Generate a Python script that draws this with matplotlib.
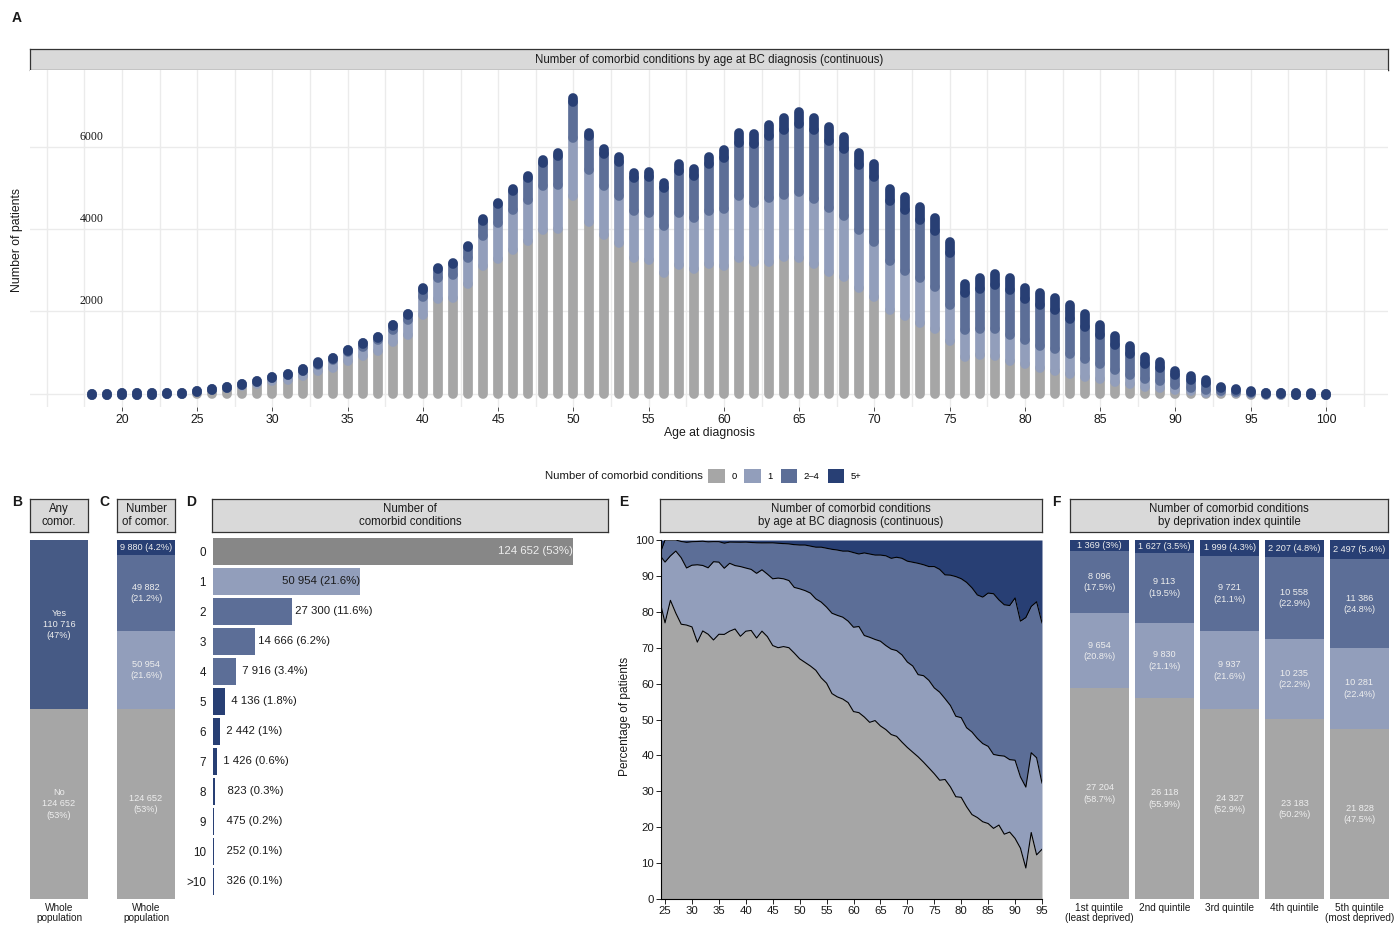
import matplotlib.pyplot as plt
from matplotlib.patches import Patch
import numpy as np

plt.rcParams['font.family'] = ['Liberation Sans', 'DejaVu Sans']

W, H = 1395, 926

# patients by single year of age at diagnosis, split by number of comorbid conditions
ages = list(range(18, 101))
n_zero = [3, 4, 4, 5, 8, 12, 20, 50, 94, 129, 186, 235, 313, 342, 442, 562, 632, 789, 908, 1034,
          1256, 1424, 1911, 2292, 2316, 2679, 3099, 3279, 3490, 3722, 3978, 4015, 4816, 4183, 3856,
          3667, 3301, 3245, 2936, 3140, 3039, 3149, 3098, 3295, 3198, 3215, 3328, 3298, 3164, 2971,
          2828, 2561, 2361, 2039, 1894, 1730, 1563, 1287, 885, 939, 911, 799, 730, 627, 549, 489,
          415, 351, 276, 237, 161, 145, 93, 62, 28, 30, 15, 9, 3, 2, 1, 1, 0]
n_one = [0, 0, 1, 1, 1, 2, 3, 11, 14, 28, 45, 49, 71, 103, 108, 141, 191, 215, 227, 262,
         295, 378, 451, 521, 574, 614, 738, 864, 967, 1000, 1063, 1072, 1404, 1270, 1207,
         1145, 1131, 1144, 1149, 1267, 1244, 1306, 1394, 1523, 1431, 1548, 1513, 1615, 1569, 1543,
         1491, 1424, 1331, 1197, 1095, 1094, 1044, 882, 656, 635, 662, 629, 572, 537, 537, 475,
         420, 359, 289, 223, 194, 157, 120, 87, 73, 36, 33, 12, 5, 3, 2, 1, 1]
n_two_four = [0, 0, 0, 0, 0, 0, 0, 4, 5, 5, 11, 22, 27, 31, 40, 55, 49, 61, 86, 82,
              109, 132, 185, 230, 271, 269, 369, 465, 484, 519, 580, 698, 878, 806, 778,
              829, 820, 886, 914, 1015, 1004, 1123, 1234, 1282, 1451, 1516, 1574, 1642, 1676, 1641,
              1623, 1577, 1572, 1441, 1483, 1403, 1357, 1247, 915, 973, 1060, 1091, 998, 988, 938, 862,
              787, 713, 628, 499, 376, 334, 249, 190, 153, 66, 53, 29, 10, 7, 4, 2, 2]
n_five_plus = [0, 0, 0, 0, 0, 0, 1, 0, 0, 0, 1, 2, 2, 2, 2, 4, 4, 5, 11, 8,
               10, 12, 15, 21, 25, 29, 34, 37, 45, 53, 62, 76, 101, 89, 101,
               115, 107, 124, 133, 156, 169, 178, 208, 248, 227, 255, 281, 287, 295, 331,
               300, 299, 330, 309, 311, 313, 317, 273, 219, 274, 286, 286, 278, 288, 311, 330,
               307, 247, 210, 192, 161, 142, 89, 99, 70, 30, 21, 15, 6, 4, 2, 1, 1]

# whole population by exact number of conditions
cond_labels = ['0', '1', '2', '3', '4', '5', '6', '7', '8', '9', '10', '>10']
cond_counts = [124652, 50954, 27300, 14666, 7916, 4136, 2442, 1426, 823, 475, 252, 326]

# deprivation quintiles
quintiles = ['1st quintile\n(least deprived)', '2nd quintile', '3rd quintile',
             '4th quintile', '5th quintile\n(most deprived)']
q_zero = [27204, 26118, 24327, 23183, 21828]
q_one = [9654, 9830, 9937, 10235, 10281]
q_two_four = [8096, 9113, 9721, 10558, 11386]
q_five_plus = [1369, 1627, 1999, 2207, 2497]

GREY = '#A6A6A6'
LIGHT = '#929EBB'
MID = '#5C6E97'
DARK = '#283F74'
YES = '#465A85'
ZERO_BAR = '#878787'
INK = '#1A1A1A'
TXT_IN = '#EEEEEE'


def fmt_n(v):
    return f'{v:,}'.replace(',', ' ')


def fmt_p(v, tot):
    s = f'{round(100 * v / tot, 1):.1f}'
    if s.endswith('.0'):
        s = s[:-2]
    return s + '%'


fig = plt.figure(figsize=(W / 100, H / 100), dpi=100)


def px_axes(x0, y0, x1, y1):
    return fig.add_axes([x0 / W, 1 - y1 / H, (x1 - x0) / W, (y1 - y0) / H])


def strip(x0, y0, x1, y1, text):
    s = px_axes(x0, y0, x1, y1)
    s.set_facecolor('#D9D9D9')
    s.set_xticks([])
    s.set_yticks([])
    for sp in s.spines.values():
        sp.set_linewidth(0.9)
        sp.set_color('#333333')
    s.text(0.5, 0.5, text, ha='center', va='center', fontsize=8.3,
           linespacing=1.15, color=INK, transform=s.transAxes)


def letter(x, y, t):
    fig.text(x / W, 1 - y / H, t, ha='center', va='center', fontsize=10,
             fontweight='bold', color=INK)


# ---- A: counts by age ----
strip(30, 49, 1388, 70, 'Number of comorbid conditions by age at BC diagnosis (continuous)')
letter(17, 18, 'A')
ax = px_axes(30, 70, 1388, 407)
ax.set_xlim(13.89, 104.12)
ax.set_ylim(-324, 7874)
c0 = np.array(n_zero)
c1 = c0 + np.array(n_one)
c2 = c1 + np.array(n_two_four)
c3 = c2 + np.array(n_five_plus)
for lo, hi, col in [(np.zeros_like(c0), c0, GREY), (c0, c1, LIGHT), (c1, c2, MID), (c2, c3, DARK)]:
    # stretch empty segments downwards so their round end cap is still drawn
    lo = np.minimum(lo, hi - 30)
    lc = ax.vlines(ages, lo, hi, colors=col, linewidth=7.0, zorder=3)
    lc.set_capstyle('round')
ax.set_xticks(range(20, 101, 5))
ax.set_xticks([15, 17.5] + list(np.arange(22.5, 103, 5)), minor=True)
ax.set_yticks([0, 2000, 4000, 6000])
ax.set_yticklabels([])
ax.grid(True, which='both', color='#EBEBEB', linewidth=1.0, zorder=0)
ax.tick_params(axis='x', which='major', length=3, width=0.6, color='#333333',
               labelsize=8.8, labelcolor=INK, pad=2)
ax.tick_params(axis='x', which='minor', length=0)
ax.tick_params(axis='y', length=0)
for sp in ax.spines.values():
    sp.set_visible(False)
for v in [2000, 4000, 6000]:
    ax.text(18, v + 110, str(v), ha='center', va='bottom', fontsize=8.6,
            family=['Liberation Serif', 'DejaVu Serif'], color=INK)
fig.text(709 / W, 1 - 433 / H, 'Age at diagnosis', ha='center', va='center',
         fontsize=8.8, color=INK)
fig.text(17 / W, 1 - 240 / H, 'Number of patients', ha='center', va='center',
         rotation=90, fontsize=8.8, color=INK)

# legend
fig.text(703 / W, 1 - 476 / H, 'Number of comorbid conditions', ha='right',
         va='center', fontsize=8.2, color=INK)
handles = [Patch(facecolor=c, edgecolor='none') for c in [GREY, LIGHT, MID, DARK]]
fig.legend(handles, ['0', '1', '2–4', '5+'], ncol=4, frameon=False, fontsize=6.8,
           loc='center left', bbox_to_anchor=(708 / W, 1 - 476 / H),
           handlelength=1.75, handleheight=1.75, handletextpad=0.7, columnspacing=0.85,
           borderaxespad=0, borderpad=0)

total = sum(cond_counts)

# ---- B: any comorbidity ----
letter(17, 502, 'B')
strip(30, 499, 88, 532, 'Any\ncomor.')
axb = px_axes(30, 540, 88, 899)
no_n = cond_counts[0]
yes_n = total - no_n
axb.bar(0, no_n, width=1, color=GREY)
axb.bar(0, yes_n, bottom=no_n, width=1, color=YES)
axb.text(0, no_n / 2, f'No\n{fmt_n(no_n)}\n({fmt_p(no_n, total)})', ha='center',
         va='center', fontsize=6.6, color=TXT_IN, linespacing=1.3)
axb.text(0, no_n + yes_n / 2, f'Yes\n{fmt_n(yes_n)}\n({fmt_p(yes_n, total)})',
         ha='center', va='center', fontsize=6.6, color=TXT_IN, linespacing=1.3)
axb.set_xlim(-0.5, 0.5)
axb.set_ylim(0, total)
axb.axis('off')
fig.text(59 / W, 1 - 913 / H, 'Whole\npopulation', ha='center', va='center',
         fontsize=7.2, color=INK, linespacing=1.0)

# ---- C: grouped number of comorbidities ----
letter(104, 502, 'C')
strip(117, 499, 175, 532, 'Number\nof comor.')
axc = px_axes(117, 540, 175, 899)
groups = [cond_counts[0], cond_counts[1], sum(cond_counts[2:5]), sum(cond_counts[5:])]
bottom = 0
for i, (g, col) in enumerate(zip(groups, [GREY, LIGHT, MID, DARK])):
    axc.bar(0, g, bottom=bottom, width=1, color=col)
    sep = ' ' if i == 3 else '\n'
    axc.text(0, bottom + g / 2, f'{fmt_n(g)}{sep}({fmt_p(g, total)})', ha='center',
             va='center', fontsize=6.6, color=TXT_IN, linespacing=1.3)
    bottom += g
axc.set_xlim(-0.5, 0.5)
axc.set_ylim(0, total)
axc.axis('off')
fig.text(146 / W, 1 - 913 / H, 'Whole\npopulation', ha='center', va='center',
         fontsize=7.2, color=INK, linespacing=1.0)

# ---- D: exact number of comorbidities ----
letter(191, 502, 'D')
strip(212, 499, 608, 532, 'Number of\ncomorbid conditions')
axd = px_axes(213, 536, 608, 896)
d_cols = [ZERO_BAR, LIGHT, MID, MID, MID] + [DARK] * 7
pos = np.arange(len(cond_counts))
axd.barh(pos, cond_counts, height=0.9, color=d_cols)
width = max(len(fmt_n(v)) for v in cond_counts)
for i, v in enumerate(cond_counts):
    lab = f'{fmt_n(v).rjust(width)} ({fmt_p(v, total)})'
    if i == 0:
        axd.text(v, i, lab, ha='right', va='center', fontsize=8.2, color=TXT_IN)
    elif i == 1:
        axd.text(v, i, lab, ha='right', va='center', fontsize=8.2, color=INK)
    else:
        axd.text(v, i, lab, ha='left', va='center', fontsize=8.2, color=INK)
axd.set_xlim(0, 136800)
axd.set_ylim(len(cond_counts) - 0.5, -0.5)
axd.set_yticks(pos)
axd.set_yticklabels(cond_labels)
axd.set_xticks([])
axd.tick_params(axis='y', length=0, pad=5, labelsize=8.4, labelcolor=INK)
for sp in axd.spines.values():
    sp.set_visible(False)

# ---- E: percentage by age ----
letter(624, 502, 'E')
strip(660, 499, 1042, 532, 'Number of comorbid conditions\nby age at BC diagnosis (continuous)')
axe = px_axes(661, 540, 1042, 899)
e_sel = slice(ages.index(24), ages.index(95) + 1)
e_age = np.array(ages[e_sel])
e_tot = c3[e_sel].astype(float)
p0 = 100 * c0[e_sel] / e_tot
p1 = 100 * c1[e_sel] / e_tot
p2 = 100 * c2[e_sel] / e_tot
axe.fill_between(e_age, 0, p0, color=GREY, linewidth=0)
axe.fill_between(e_age, p0, p1, color=LIGHT, linewidth=0)
axe.fill_between(e_age, p1, p2, color=MID, linewidth=0)
axe.fill_between(e_age, p2, 100, color=DARK, linewidth=0)
for p in (p0, p1, p2):
    axe.plot(e_age, p, color='black', linewidth=0.8)
axe.set_xlim(24.25, 95)
axe.set_ylim(0, 100)
axe.set_xticks(range(25, 96, 5))
axe.set_yticks(range(0, 101, 10))
axe.tick_params(length=3.5, width=0.6, labelsize=8.2, labelcolor=INK, pad=1.5)
for s in ['top', 'right']:
    axe.spines[s].set_visible(False)
for s in ['left', 'bottom']:
    axe.spines[s].set_linewidth(0.8)
fig.text(625 / W, 1 - 716 / H, 'Percentage of patients', ha='center', va='center',
         rotation=90, fontsize=8.6, color=INK)

# ---- F: by deprivation quintile ----
letter(1056, 502, 'F')
strip(1070, 499, 1388, 532, 'Number of comorbid conditions\nby deprivation index quintile')
axf = px_axes(1070, 540, 1389, 899)
qx = np.arange(len(quintiles))
for k in qx:
    parts = [q_zero[k], q_one[k], q_two_four[k], q_five_plus[k]]
    qt = sum(parts)
    bottom = 0
    for i, (v, col) in enumerate(zip(parts, [GREY, LIGHT, MID, DARK])):
        h = 100 * v / qt
        axf.bar(k, h, bottom=bottom, width=0.908, color=col)
        sep = ' ' if i == 3 else '\n'
        axf.text(k, bottom + h / 2, f'{fmt_n(v)}{sep}({fmt_p(v, qt)})', ha='center',
                 va='center', fontsize=6.6, color=TXT_IN, linespacing=1.35)
        bottom += h
axf.set_xlim(-0.454, len(quintiles) - 0.546)
axf.set_ylim(0, 100)
axf.set_xticks(qx)
axf.set_xticklabels(quintiles, linespacing=1.0)
axf.set_yticks([])
axf.tick_params(axis='x', length=0, pad=3, labelsize=7.2, labelcolor=INK)
for sp in axf.spines.values():
    sp.set_visible(False)

fig.savefig('out.png', dpi=100)
